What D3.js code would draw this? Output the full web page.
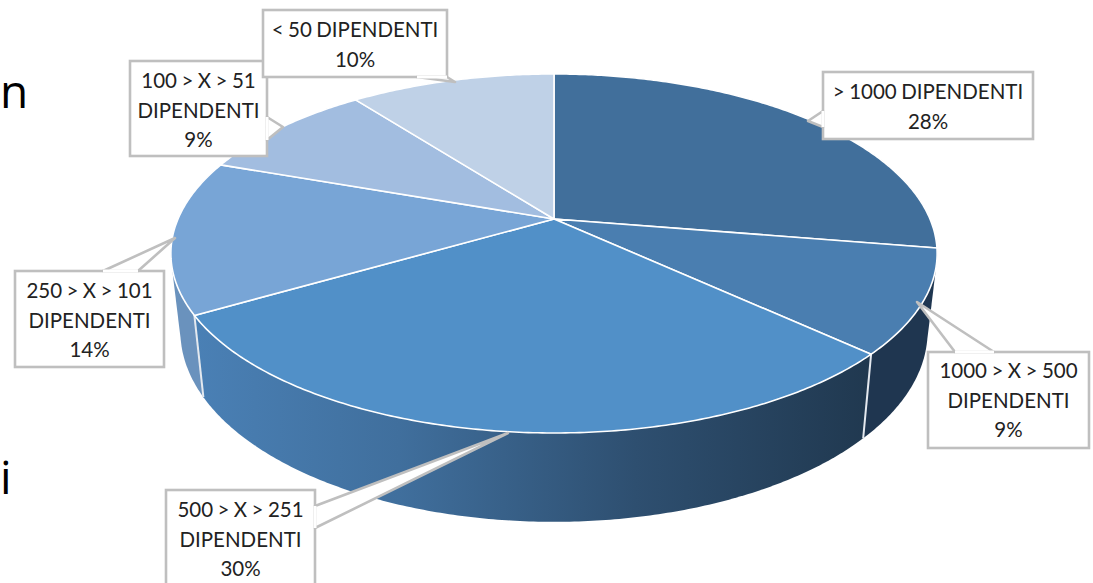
<!DOCTYPE html>
<html>
<head>
<meta charset="utf-8">
<script src="https://cdnjs.cloudflare.com/ajax/libs/d3/7.8.5/d3.min.js"></script>
<style>
  html, body { margin: 0; padding: 0; background: #fff; overflow: hidden; }
  svg { display: block; }
</style>
</head>
<body>
<script>
// Data
var categories = ["> 1000 DIPENDENTI", "1000 > X > 500 DIPENDENTI", "500 > X > 251 DIPENDENTI",
                  "250 > X > 101 DIPENDENTI", "100 > X > 51 DIPENDENTI", "< 50 DIPENDENTI"];
var values = [27.6, 9.3, 29.7, 13.8, 9.2, 10.4];
var sliceColors = ["#416f9b", "#4a7eb0", "#5190c8", "#78a5d6", "#a2bde0", "#bfd1e7"];
var sideColors = ["#1f3650", "#1f3650", "url(#side30)", "#6a92bd", "#6a92bd", "#6a92bd"];
var wallOrder = [3, 4, 5, 0, 1, 2];

// callout boxes: x, y, w, h, first baseline, pointer polygon
var callouts = [
  {x: 823, y: 72, w: 210, h: 67, base: 99, wrap: false, ptr: [[823, 111], [808, 121], [823, 127]]},
  {x: 928, y: 352, w: 161, h: 96, base: 378, wrap: true, ptr: [[955, 352], [917, 302], [994, 352]]},
  {x: 166, y: 490, w: 149, h: 110, base: 517, wrap: true, ptr: [[315, 506], [508, 433], [315, 528]]},
  {x: 15, y: 271, w: 149, h: 96, base: 298, wrap: true, ptr: [[103, 271], [175, 238], [138, 271]]},
  {x: 130, y: 61, w: 137, h: 95, base: 88, wrap: true, ptr: [[267, 117], [283, 127], [267, 140]]},
  {x: 263, y: 10, w: 184, h: 67, base: 37, wrap: false, ptr: [[417, 77], [455, 82], [447, 77]]}
];

var w = 1093, h = 583;

var svg = d3.select("body").append("svg")
    .attr("width", w)
    .attr("height", h);

var grad = svg.append("defs").append("linearGradient")
    .attr("id", "side30")
    .attr("gradientUnits", "userSpaceOnUse")
    .attr("x1", 195).attr("x2", 873).attr("y1", 0).attr("y2", 0);
grad.append("stop").attr("offset", "0").attr("stop-color", "#4a80b5");
grad.append("stop").attr("offset", "0.3").attr("stop-color", "#406f9d");
grad.append("stop").attr("offset", "0.65").attr("stop-color", "#2e4f70");
grad.append("stop").attr("offset", "1").attr("stop-color", "#20384f");

// Perspective view of the pie disc: apex at (cx, cy), far rim shrunk by k
var cx = 554, cy = 219, A = 376, B = 172.9, k = 0.192;
var project = function (a) {
  var u = Math.sin(a), v = Math.cos(a), q = 1 + k * v;
  return [cx + A * u / q, cy - B * v / q];
};
// same rim pushed down to the bottom of the cake
var projectLow = function (a) {
  var p = project(a);
  return [cx + 0.975 * (p[0] - cx), 295 + 1.06 * (p[1] - cy)];
};

var pie = d3.pie().sort(null)(values);
var arcAngles = function (d) {
  var n = Math.ceil((d.endAngle - d.startAngle) / 0.01);
  return d3.range(n + 1).map(function (i) {
    return d.startAngle + (d.endAngle - d.startAngle) * i / n;
  });
};
var line = d3.line();

// Side walls first, the top face then hides the back of them
svg.append("g").selectAll("path")
    .data(wallOrder.map(function (i) { return pie[i]; }))
    .enter().append("path")
    .attr("d", function (d) {
      var as = arcAngles(d);
      return line(d3.polygonHull(as.map(project).concat(as.map(projectLow)))) + "Z";
    })
    .attr("fill", function (d) { return sideColors[d.index]; });

// White seams between the front walls
svg.append("g").selectAll("line")
    .data([pie[2].startAngle, pie[2].endAngle])
    .enter().append("line")
    .attr("x1", function (a) { return project(a)[0]; })
    .attr("y1", function (a) { return project(a)[1]; })
    .attr("x2", function (a) { return projectLow(a)[0]; })
    .attr("y2", function (a) { return projectLow(a)[1]; })
    .attr("stroke", "#e4e9ef")
    .attr("stroke-width", 2);

// Top face
svg.append("g").selectAll("path")
    .data(pie)
    .enter().append("path")
    .attr("d", function (d) {
      return line([[cx, cy]].concat(arcAngles(d).map(project))) + "Z";
    })
    .attr("fill", function (d, i) { return sliceColors[i]; })
    .attr("stroke", "#fff")
    .attr("stroke-width", 1.6)
    .attr("stroke-linejoin", "round");

// Callouts
var labels = svg.append("g").selectAll("g")
    .data(pie)
    .enter().append("g");

labels.append("rect")
    .attr("x", function (d, i) { return callouts[i].x; })
    .attr("y", function (d, i) { return callouts[i].y; })
    .attr("width", function (d, i) { return callouts[i].w; })
    .attr("height", function (d, i) { return callouts[i].h; })
    .attr("fill", "#fff")
    .attr("stroke", "#bfbfbf")
    .attr("stroke-width", 2.6);

labels.append("path")
    .attr("d", function (d, i) { return line(callouts[i].ptr) + "Z"; })
    .attr("fill", "#fff")
    .attr("stroke", "#bfbfbf")
    .attr("stroke-width", 2.6)
    .attr("stroke-linejoin", "round");

// open the box border where the pointer joins it
labels.append("line")
    .attr("x1", function (d, i) { return callouts[i].ptr[0][0]; })
    .attr("y1", function (d, i) { return callouts[i].ptr[0][1]; })
    .attr("x2", function (d, i) { return callouts[i].ptr[2][0]; })
    .attr("y2", function (d, i) { return callouts[i].ptr[2][1]; })
    .attr("stroke", "#fff")
    .attr("stroke-width", 3);

labels.each(function (d, i) {
  var c = callouts[i], g = d3.select(this);
  var name = categories[i];
  var rows = c.wrap ? [name.replace(" DIPENDENTI", ""), "DIPENDENTI"] : [name];
  rows.push(Math.round(d.data) + "%");
  rows.forEach(function (t, j) {
    g.append("text")
      .attr("x", c.x + c.w / 2)
      .attr("y", c.base + j * 29.5)
      .attr("text-anchor", "middle")
      .attr("font-family", "Lato, sans-serif")
      .attr("font-size", 20.5)
      .attr("word-spacing", -0.8)
      .attr("fill", "#222")
      .text(t);
  });
});

// Slide text at the left edge
svg.append("text").attr("x", 0).attr("y", 108)
    .attr("font-family", "Open Sans, sans-serif").attr("font-size", 46).attr("fill", "#000").text("n");
svg.append("text").attr("x", 0).attr("y", 494)
    .attr("font-family", "Open Sans, sans-serif").attr("font-size", 46).attr("fill", "#000").text("i");
</script>
</body>
</html>
